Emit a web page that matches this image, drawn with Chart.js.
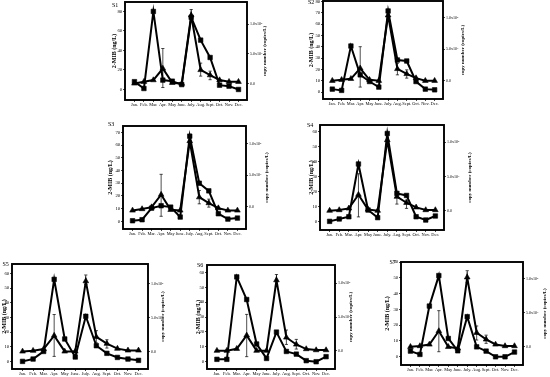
<!DOCTYPE html>
<html>
<head>
<meta charset="utf-8">
<script src="https://cdn.jsdelivr.net/npm/chart.js@4.4.1/dist/chart.umd.min.js"></script>
<style>
  body { margin: 0; background: #fff; }
  #page { position: relative; width: 550px; height: 377px; overflow: hidden; background: #fff; }
  #page canvas { position: absolute; }
</style>
</head>
<body>
<div id="page"></div>
<script>
const months = ["Jan.", "Feb.", "Mar.", "Apr.", "May", "June.", "July.", "Aug.", "Sept.", "Oct.", "Nov.", "Dec."];

const ticksBy20 = [0, 20, 40, 60, 80];
const ticksTo80 = [0, 10, 20, 30, 40, 50, 60, 70, 80];
const ticksTo70 = [0, 10, 20, 30, 40, 50, 60, 70];
const ticksTo60 = [0, 10, 20, 30, 40, 50, 60];
const rightTicks = [0, 50000, 100000];
const rightTickLabels = ["0.0", "5.0x10\u2074", "1.0x10\u2075"];

// squares / triangles, in left-axis units (ng/L)
const s1Square = [8, 1, 80, 9.6, 8.5, 5, 74, 50.6, 32.8, 4.4, 3.4, 0];
const s1Triangle = [6.2, 7.9, 9.6, 21.5, 6.8, 6, 76, 20, 14.7, 9.6, 7.9, 7.9];
const s1ErrLow = [null, null, null, 2, null, null, 69, 13.7, 10, null, null, null];
const s1ErrHigh = [null, null, null, 42, null, null, 82, 27, 18.8, null, null, null];

const s2Square = [2.6, 1.5, 40.6, 15.2, 9.3, 4.4, 71.5, 28.3, 27.4, 9.3, 2.6, 2];
const s2Triangle = [10, 10.8, 11.7, 21, 10.8, 10, 67.7, 20.4, 16, 12.3, 10, 10];
const s2ErrLow = [null, null, null, 4.4, null, null, null, 15.2, 12.3, null, null, null];
const s2ErrHigh = [null, null, null, 40, null, null, null, 25.4, 19.6, null, null, null];

const s3Square = [0.5, 1.3, 10.4, 12.3, 11.2, 3.4, 67, 30, 24, 6, 1.8, 2.6];
const s3Triangle = [8.6, 9.7, 11.2, 21, 9.1, 8.6, 63.2, 19, 14.4, 10.4, 8.6, 8.6];
const s3ErrLow = [null, null, null, 4, null, null, null, 13.8, 11.2, null, null, null];
const s3ErrHigh = [null, null, null, 37, null, null, null, 24.3, 17.5, null, null, null];

const s4Square = [0, 1.6, 3.1, 38.5, 7.6, 2.5, 59, 18.8, 17.4, 3.1, 0.9, 3.6];
const s4Triangle = [7.2, 7.6, 8.7, 17.9, 8, 7.2, 54.6, 16.6, 12.5, 9.4, 7.6, 7.6];
const s4ErrLow = [null, null, null, 3, null, null, null, 11.6, 8.7, null, null, null];
const s4ErrHigh = [null, null, null, 32, null, null, null, 20, 14.3, null, null, null];

const s5Square = [0, 1.6, 6.8, 56, 15.3, 3, 30.8, 10.7, 5.5, 2.7, 1.6, 0.7];
const s5Triangle = [6.8, 7.3, 8.4, 17.6, 6.8, 6.8, 54.8, 16.7, 12.1, 8.7, 7.5, 7.5];
const s5ErrLow = [null, null, null, 3.4, null, null, 52.5, 12.6, 9.1, null, null, null];
const s5ErrHigh = [null, null, null, 32, null, null, 59, 21, 14.8, null, null, null];

const s6Square = [1.6, 1.6, 57, 41.8, 11.9, 2.2, 19.9, 6.9, 5.1, 0.7, 0, 3.4];
const s6Triangle = [7.4, 7.4, 8.7, 17.7, 7.4, 7.4, 54.8, 16.3, 11.6, 8.5, 7.8, 7.8];
const s6ErrLow = [null, null, null, 3.4, null, null, 50.8, 11.6, 8.5, null, null, null];
const s6ErrHigh = [null, null, null, 31.8, null, null, 58.6, 21.3, 15, null, null, null];

const s7Square = [3.6, 1.5, 32.1, 51.4, 11.6, 3.8, 25.4, 6.3, 3.6, 0, 0, 3];
const s7Triangle = [6.3, 6.8, 7.8, 16.3, 6.3, 5.3, 50.3, 15.2, 11, 7.8, 6.8, 6.8];
const s7ErrLow = [null, null, null, 3.2, null, null, 46.9, 10.6, 8.5, null, null, null];
const s7ErrHigh = [null, null, null, 29.2, null, null, 54.5, 19.5, 13.7, null, null, null];

const FONT = '"Liberation Serif", "Times New Roman", serif';
const LEFT_W = 18, RIGHT_W = 32, PAD_TOP = 8, BOT_H = 10;

// frame box in page pixels, axis ranges and text offsets for each panel
const panels = [
  {name: "S1", sq: s1Square, tri: s1Triangle, lo: s1ErrLow, hi: s1ErrHigh, ticks: ticksBy20,
   L: 125, T: 2, R: 247, B: 100, yMin: -10.8, yMax: 89.7, rMin: -28000, rMax: 138000,
   titleOff: 11, rTitleOff: 18, labDx: -13, labDy: 3},
  {name: "S2", sq: s2Square, tri: s2Triangle, lo: s2ErrLow, hi: s2ErrHigh, ticks: ticksTo80,
   L: 323, T: 1, R: 443, B: 99, yMin: -6.1, yMax: 80.3, rMin: -28900, rMax: 126400,
   titleOff: 11.5, rTitleOff: 20, labDx: -15, labDy: 1.5},
  {name: "S3", sq: s3Square, tri: s3Triangle, lo: s3ErrLow, hi: s3ErrHigh, ticks: ticksTo70,
   L: 123, T: 126, R: 246, B: 229, yMin: -6, yMax: 75, rMin: -35400, rMax: 128600,
   titleOff: 12.5, rTitleOff: 21, labDx: -15, labDy: -1.5},
  {name: "S4", sq: s4Square, tri: s4Triangle, lo: s4ErrLow, hi: s4ErrHigh, ticks: ticksTo60,
   L: 320, T: 125, R: 444, B: 230, yMin: -5.8, yMax: 64.7, rMin: -28200, rMax: 125300,
   titleOff: 8.8, rTitleOff: 26, labDx: -13, labDy: 0.5},
  {name: "S5", sq: s5Square, tri: s5Triangle, lo: s5ErrLow, hi: s5ErrHigh, ticks: ticksTo60,
   L: 12, T: 264, R: 148, B: 369, yMin: -5.2, yMax: 66.5, rMin: -25000, rMax: 129000,
   titleOff: 7.5, rTitleOff: 15, labDx: -9.5, labDy: 0.5},
  {name: "S6", sq: s6Square, tri: s6Triangle, lo: s6ErrLow, hi: s6ErrHigh, ticks: ticksTo60,
   L: 207, T: 265, R: 335, B: 369, yMin: -4.9, yMax: 65, rMin: -26600, rMax: 127000,
   titleOff: 9, rTitleOff: 16, labDx: -10, labDy: 0.5},
  {name: "S7", sq: s7Square, tri: s7Triangle, lo: s7ErrLow, hi: s7ErrHigh, ticks: ticksTo60,
   L: 401, T: 262, R: 523, B: 365, yMin: -5.2, yMax: 60, rMin: -26800, rMax: 124300,
   titleOff: 14, rTitleOff: 22, labDx: -11.5, labDy: 0.5}
];

const framePlugin = {
  id: "frame",
  afterDatasetsDraw(chart, args, opts) {
    const {ctx, chartArea: a, scales} = chart;
    const p = opts.panel;
    ctx.save();
    ctx.strokeStyle = "#000";
    ctx.fillStyle = "#000";

    // error bars on the triangle series
    ctx.lineWidth = 0.7;
    p.lo.forEach((lo, i) => {
      if (lo === null) return;
      const x = scales.x.getPixelForValue(i);
      const y0 = scales.y.getPixelForValue(lo);
      const y1 = scales.y.getPixelForValue(p.hi[i]);
      ctx.beginPath();
      ctx.moveTo(x, y0); ctx.lineTo(x, y1);
      ctx.moveTo(x - 1.6, y0); ctx.lineTo(x + 1.6, y0);
      ctx.moveTo(x - 1.6, y1); ctx.lineTo(x + 1.6, y1);
      ctx.stroke();
    });

    ctx.lineWidth = 1.9;
    ctx.strokeRect(a.left, a.top, a.right - a.left, a.bottom - a.top);

    ctx.font = `6px ${FONT}`;
    ctx.textAlign = "left";
    ctx.textBaseline = "middle";
    ctx.fillText(p.name, a.left + p.labDx, a.top + p.labDy);

    const midY = (a.top + a.bottom) / 2;
    ctx.textAlign = "center";
    ctx.save();
    ctx.translate(a.left - p.titleOff, midY);
    ctx.rotate(-Math.PI / 2);
    ctx.font = `bold 6px ${FONT}`;
    ctx.fillText("2-MIB (ng/L)", 0, 0);
    ctx.restore();

    ctx.save();
    ctx.translate(a.right + p.rTitleOff, midY);
    ctx.rotate(-Math.PI / 2);
    ctx.font = `bold 5px ${FONT}`;
    ctx.fillText("copy number (copies/L)", 0, 0);
    ctx.restore();

    ctx.restore();
  }
};

function tickGrid() {
  return {drawOnChartArea: false, drawTicks: true, tickLength: 1.8, color: "#000", lineWidth: 0.9};
}

function buildPanel(p) {
  const canvas = document.createElement("canvas");
  const w = p.R - p.L + LEFT_W + RIGHT_W;
  const h = p.B - p.T + PAD_TOP + BOT_H;
  canvas.width = w;
  canvas.height = h;
  canvas.style.left = (p.L - LEFT_W) + "px";
  canvas.style.top = (p.T - PAD_TOP) + "px";
  canvas.style.width = w + "px";
  canvas.style.height = h + "px";
  document.getElementById("page").appendChild(canvas);

  const line = (values, style, radius) => ({
    data: values.map((v, i) => ({x: i, y: v})),
    borderColor: "#000",
    backgroundColor: "#000",
    borderWidth: 2,
    pointStyle: style,
    pointRadius: radius,
    pointBorderWidth: 0.6,
    pointBackgroundColor: "#000",
    pointBorderColor: "#000",
    tension: 0,
    yAxisID: "y"
  });

  return new Chart(canvas, {
    type: "line",
    data: {datasets: [line(p.sq, "rect", 3.2), line(p.tri, "triangle", 3.3)]},
    options: {
      responsive: false,
      animation: false,
      devicePixelRatio: 1,
      layout: {padding: {top: PAD_TOP, left: 0, right: 0, bottom: 0}},
      plugins: {legend: {display: false}, tooltip: {enabled: false}, frame: {panel: p}},
      scales: {
        x: {
          type: "linear", min: -1, max: 11.9,
          grid: tickGrid(), border: {display: false},
          afterBuildTicks: (s) => { s.ticks = months.map((m, i) => ({value: i})); },
          afterFit: (s) => { s.height = BOT_H; },
          ticks: {autoSkip: false, maxRotation: 0, minRotation: 0, padding: 0.8, color: "#000",
                  font: {family: FONT, size: 4.4}, callback: (v) => months[v] ?? ""}
        },
        y: {
          position: "left", min: p.yMin, max: p.yMax,
          grid: tickGrid(), border: {display: false},
          afterBuildTicks: (s) => { s.ticks = p.ticks.map((v) => ({value: v})); },
          afterFit: (s) => { s.width = LEFT_W; },
          ticks: {autoSkip: false, padding: 1, color: "#000", font: {family: FONT, size: 4.8},
                  callback: (v) => String(v)}
        },
        y1: {
          position: "right", min: p.rMin, max: p.rMax,
          grid: tickGrid(), border: {display: false},
          afterBuildTicks: (s) => { s.ticks = rightTicks.map((v) => ({value: v})); },
          afterFit: (s) => { s.width = RIGHT_W; },
          ticks: {autoSkip: false, padding: 1.2, color: "#000", font: {family: FONT, size: 4},
                  callback: (v, i) => rightTickLabels[i]}
        }
      }
    },
    plugins: [framePlugin]
  });
}

panels.forEach(buildPanel);
</script>
</body>
</html>
